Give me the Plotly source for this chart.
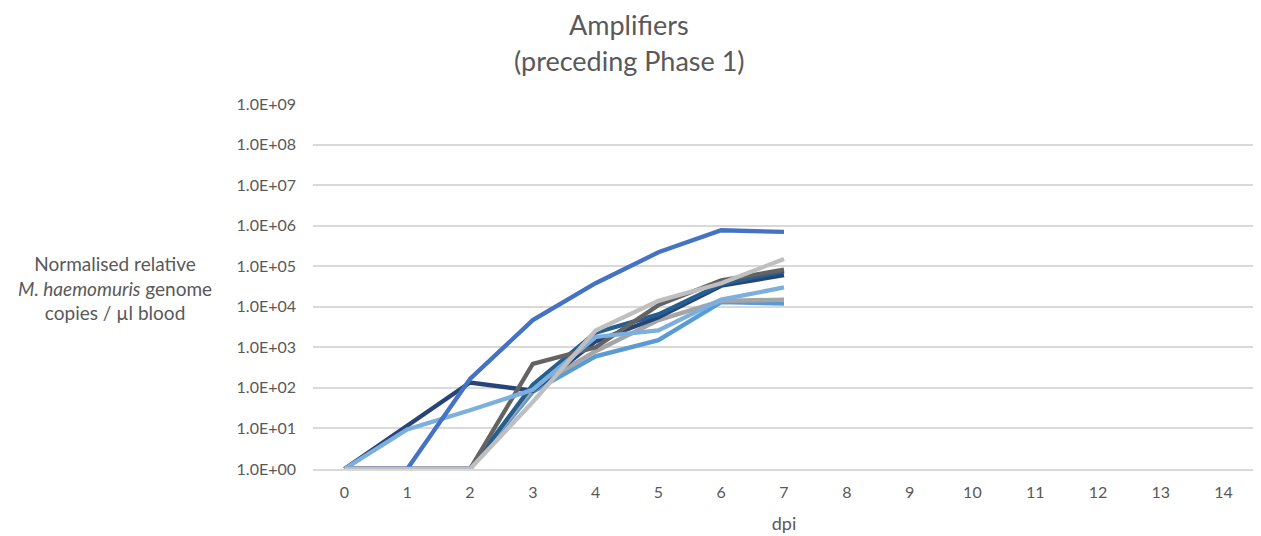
import plotly.graph_objects as go

days = [str(d) for d in range(15)]
days_data = ["0", "1", "2", "3", "4", "5", "6", "7"]

mouse_mid_blue = [1, 1, 1, 80, 600, 1500, 13000, 12000]
mouse_gray = [1, 1, 1, 100, 800, 4700, 14000, 15000]
mouse_navy = [1, 12, 135, 85, 1400, 5500, 33000, 60000]
mouse_teal = [1, 1, 1, 120, 2300, 6500, 36000, 75000]
mouse_dark_gray = [1, 1, 1, 390, 1000, 11000, 45000, 82000]
mouse_light_blue = [1, 9.5, 28, 90, 1800, 2600, 15000, 30000]
mouse_medium_blue = [1, 1, 166, 4700, 38000, 220000, 770000, 700000]
mouse_light_gray = [1, 1, 1, 45, 2600, 14000, 38000, 150000]

series = [
    ("Mouse A", mouse_mid_blue, "#5B9BD5"),
    ("Mouse B", mouse_gray, "#A5A5A5"),
    ("Mouse C", mouse_navy, "#264478"),
    ("Mouse D", mouse_teal, "#255E91"),
    ("Mouse E", mouse_dark_gray, "#636363"),
    ("Mouse F", mouse_light_blue, "#7CAFDD"),
    ("Mouse G", mouse_medium_blue, "#4472C4"),
    ("Mouse H", mouse_light_gray, "#BFBFBF"),
]

ytick_vals = [10 ** k for k in range(10)]
ytick_text = ["1.0E+%02d" % k for k in range(10)]

fig = go.Figure()
for name, vals, col in series:
    fig.add_trace(go.Scatter(x=days_data, y=vals, mode="lines", name=name,
                             line=dict(color=col, width=4.3), showlegend=False))

# page body has an 8px margin; figure is sized to fill the window from there
W, H = 1253, 528
ML, MR, MT, MB = 305, 6, 96, 67

fnt = "Lato, 'Open Sans', sans-serif"
fig.update_layout(
    width=W, height=H,
    margin=dict(l=ML, r=MR, t=MT, b=MB),
    paper_bgcolor="white", plot_bgcolor="white",
    font=dict(family=fnt, color="#595959", size=16),
    xaxis=dict(type="category", categoryorder="array", categoryarray=days,
               range=[-0.5, 14.5], showgrid=False, showline=True,
               linecolor="#D9D9D9", linewidth=1.5, ticks="", zeroline=False,
               ticklabelstandoff=8, tickfont=dict(size=16),
               title=dict(text="dpi", font=dict(size=18, color="#595959"), standoff=17)),
    yaxis=dict(type="log", range=[0, 9], tickvals=ytick_vals, ticktext=ytick_text,
               showgrid=True, gridcolor="#D9D9D9", gridwidth=1.5, zeroline=False,
               showline=False, ticks="", ticklabelstandoff=16, tickfont=dict(size=16)),
)

pw = W - ML - MR
ph = H - MT - MB
def px_x(px):
    return (px - 313) / pw
def px_y(py):
    return (469 - py) / ph

fig.add_annotation(text="Amplifiers", x=px_x(629), y=px_y(24), xref="paper", yref="paper",
                   xanchor="center", yanchor="middle", showarrow=False,
                   font=dict(size=27, color="#595959"))
fig.add_annotation(text="(preceding Phase 1)", x=px_x(629), y=px_y(60), xref="paper", yref="paper",
                   xanchor="center", yanchor="middle", showarrow=False,
                   font=dict(size=27, color="#595959"))
fig.add_annotation(text="Normalised relative<br><i>M. haemomuris</i> genome<br>copies / µl blood",
                   x=px_x(115), y=px_y(288), xref="paper", yref="paper",
                   xanchor="center", yanchor="middle", align="center", showarrow=False,
                   font=dict(size=19, color="#595959"))

fig.write_html("out.html")
